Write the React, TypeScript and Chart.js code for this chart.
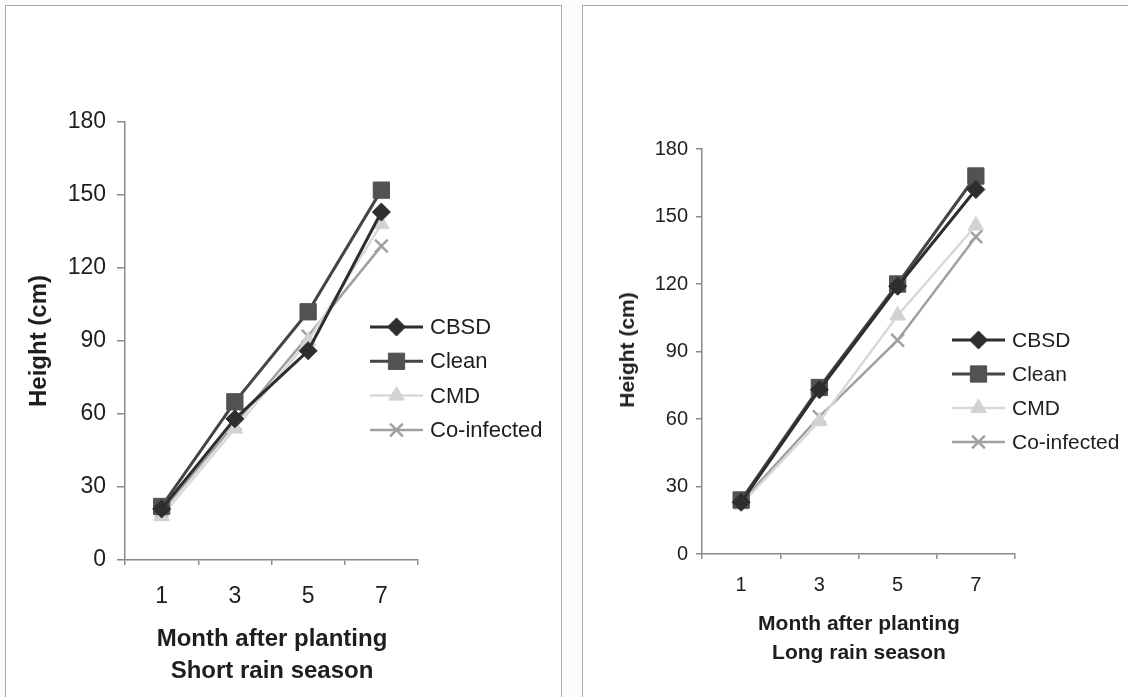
import React, { useEffect, useRef } from "react";
import { Chart, registerables } from "chart.js";
import { drawPoint } from "chart.js/helpers";

Chart.register(...registerables);

const months = ["1", "3", "5", "7"];
const seriesNames = ["CBSD", "Clean", "CMD", "Co-infected"];
const yTicks = [0, 30, 60, 90, 120, 150, 180];

// Short rain season
const shortCBSD = [21, 58, 86, 143];
const shortClean = [22, 65, 102, 152];
const shortCMD = [18, 54, 90, 138];
const shortCo = [20, 56, 92, 129];

// Long rain season
const longCBSD = [23, 73, 119, 162];
const longClean = [24, 74, 120, 168];
const longCMD = [22, 59, 106, 146];
const longCo = [23, 61, 95, 141];

const FONT = '"Liberation Sans", Arial, sans-serif';

const styles = [
  { color: "#2e2e2e", fill: "#2e2e2e", pointStyle: "rectRot", radius: 9, pbw: 1, lw: 3 },
  { color: "#454545", fill: "#525252", pointStyle: "rect", radius: 11.5, pbw: 1, lw: 3 },
  { color: "#d8d8d8", fill: "#d2d2d2", pointStyle: "triangle", radius: 9, pbw: 1, lw: 2.5 },
  { color: "#a0a0a0", fill: "#a0a0a0", pointStyle: "crossRot", radius: 9, pbw: 2.5, lw: 2.5 },
];

const legendPlugin = {
  id: "lineLegend",
  afterDraw(chart: any, _args: any, opts: any) {
    const ctx = chart.ctx;
    chart.data.datasets.forEach((ds: any, i: number) => {
      const y = opts.y + i * opts.dy;
      ctx.save();
      ctx.strokeStyle = ds.borderColor;
      ctx.lineWidth = ds.borderWidth;
      ctx.beginPath();
      ctx.moveTo(opts.x0, y);
      ctx.lineTo(opts.x1, y);
      ctx.stroke();
      ctx.fillStyle = ds.pointBackgroundColor;
      ctx.strokeStyle = ds.pointBorderColor;
      ctx.lineWidth = ds.pointBorderWidth;
      drawPoint(
        ctx,
        { pointStyle: ds.pointStyle, radius: ds.pointRadius, borderWidth: ds.pointBorderWidth, rotation: 0 } as any,
        (opts.x0 + opts.x1) / 2,
        y
      );
      ctx.fillStyle = "#1e1e1e";
      ctx.font = `${opts.fontSize}px ${FONT}`;
      ctx.textBaseline = "middle";
      ctx.textAlign = "left";
      ctx.fillText(ds.label, opts.textX, y + 1);
      ctx.restore();
    });
  },
};

type Panel = {
  canvasLeft: number;
  canvasTop: number;
  canvasW: number;
  canvasH: number;
  areaLeft: number;
  areaTop: number;
  areaRight: number;
  areaBottom: number;
  tickFont: number;
  yTickLen: number;
  yTickPad: number;
  xTickPad: number;
  legend: { x0: number; x1: number; textX: number; y: number; dy: number; fontSize: number };
  data: number[][];
};

function ChartPanel({ p }: { p: Panel }) {
  const ref = useRef<HTMLCanvasElement>(null);
  useEffect(() => {
    if (!ref.current) return;
    const datasets = p.data.map((vals, i) => {
      const s = styles[i];
      return {
        label: seriesNames[i],
        data: vals,
        borderColor: s.color,
        borderWidth: s.lw,
        pointStyle: s.pointStyle,
        pointRadius: s.radius,
        pointBackgroundColor: s.fill,
        pointBorderColor: s.fill,
        pointBorderWidth: s.pbw,
        tension: 0,
      };
    });
    const chart = new Chart(ref.current, {
      type: "line",
      data: { labels: months, datasets: datasets as any },
      options: {
        responsive: false,
        animation: false,
        layout: {
          padding: {
            top: p.areaTop - p.canvasTop,
            right: p.canvasLeft + p.canvasW - p.areaRight,
            left: 0,
            bottom: 0,
          },
        },
        plugins: {
          legend: { display: false },
          tooltip: { enabled: false },
          lineLegend: {
            x0: p.legend.x0 - p.canvasLeft,
            x1: p.legend.x1 - p.canvasLeft,
            textX: p.legend.textX - p.canvasLeft,
            y: p.legend.y - p.canvasTop,
            dy: p.legend.dy,
            fontSize: p.legend.fontSize,
          },
        } as any,
        scales: {
          x: {
            type: "category",
            offset: true,
            grid: {
              offset: true,
              drawOnChartArea: false,
              drawTicks: true,
              tickLength: 5,
              color: "#8a8a8a",
              lineWidth: 1.5,
            },
            border: { color: "#8a8a8a", width: 1.5 },
            ticks: {
              color: "#1e1e1e",
              font: { family: FONT, size: p.tickFont },
              padding: p.xTickPad,
              maxRotation: 0,
            },
            afterFit: (scale: any) => {
              scale.height = p.canvasTop + p.canvasH - p.areaBottom;
            },
          },
          y: {
            min: 0,
            max: 180,
            afterBuildTicks: (scale: any) => {
              scale.ticks = yTicks.map((v) => ({ value: v }));
            },
            grid: {
              drawOnChartArea: false,
              drawTicks: true,
              tickLength: p.yTickLen,
              color: "#8a8a8a",
              lineWidth: 1.5,
            },
            border: { color: "#8a8a8a", width: 1.5 },
            ticks: {
              color: "#1e1e1e",
              font: { family: FONT, size: p.tickFont },
              padding: p.yTickPad,
            },
            afterFit: (scale: any) => {
              scale.width = p.areaLeft - p.canvasLeft;
            },
          },
        },
      } as any,
      plugins: [legendPlugin],
    });
    return () => chart.destroy();
  }, [p]);
  return (
    <canvas
      ref={ref}
      width={p.canvasW}
      height={p.canvasH}
      style={{ position: "absolute", left: p.canvasLeft, top: p.canvasTop, width: p.canvasW, height: p.canvasH }}
    />
  );
}

const leftPanel: Panel = {
  canvasLeft: 7,
  canvasTop: 7,
  canvasW: 553,
  canvasH: 690,
  areaLeft: 125,
  areaTop: 122,
  areaRight: 418,
  areaBottom: 560,
  tickFont: 23,
  yTickLen: 8,
  yTickPad: 11,
  xTickPad: 18,
  legend: { x0: 370, x1: 423, textX: 430, y: 327, dy: 34.3, fontSize: 22 },
  data: [shortCBSD, shortClean, shortCMD, shortCo],
};

const rightPanel: Panel = {
  canvasLeft: 585,
  canvasTop: 7,
  canvasW: 543,
  canvasH: 690,
  areaLeft: 702,
  areaTop: 149,
  areaRight: 1015,
  areaBottom: 554,
  tickFont: 20,
  yTickLen: 6,
  yTickPad: 8,
  xTickPad: 14,
  legend: { x0: 952, x1: 1005, textX: 1012, y: 340, dy: 34, fontSize: 21 },
  data: [longCBSD, longClean, longCMD, longCo],
};

const boldText = (size: number): React.CSSProperties => ({
  position: "absolute",
  fontFamily: FONT,
  fontWeight: "bold",
  fontSize: size,
  color: "#1e1e1e",
  whiteSpace: "nowrap",
});

export default function App() {
  return (
    <div style={{ position: "absolute", left: 0, top: 0, width: 1128, height: 697, overflow: "hidden", background: "#fcfcfc" }}>
      <div style={{ position: "absolute", left: 5, top: 5, width: 555, height: 700, border: "1.5px solid #a8a8a8", background: "#fff" }} />
      <div style={{ position: "absolute", left: 582, top: 5, width: 560, height: 700, border: "1.5px solid #a8a8a8", background: "#fff" }} />
      <ChartPanel p={leftPanel} />
      <ChartPanel p={rightPanel} />
      {/* Left titles */}
      <div style={{ ...boldText(24), left: 38, top: 341, transform: "translate(-50%, -50%) rotate(-90deg)" }}>Height (cm)</div>
      <div style={{ ...boldText(24), left: 272, top: 638, transform: "translate(-50%, -50%)", textAlign: "center" }}>Month after planting</div>
      <div style={{ ...boldText(24), left: 272, top: 670, transform: "translate(-50%, -50%)", textAlign: "center" }}>Short rain season</div>
      {/* Right titles */}
      <div style={{ ...boldText(21), left: 627, top: 350, transform: "translate(-50%, -50%) rotate(-90deg)" }}>Height (cm)</div>
      <div style={{ ...boldText(21), left: 859, top: 623, transform: "translate(-50%, -50%)", textAlign: "center" }}>Month after planting</div>
      <div style={{ ...boldText(21), left: 859, top: 652, transform: "translate(-50%, -50%)", textAlign: "center" }}>Long rain season</div>
    </div>
  );
}
